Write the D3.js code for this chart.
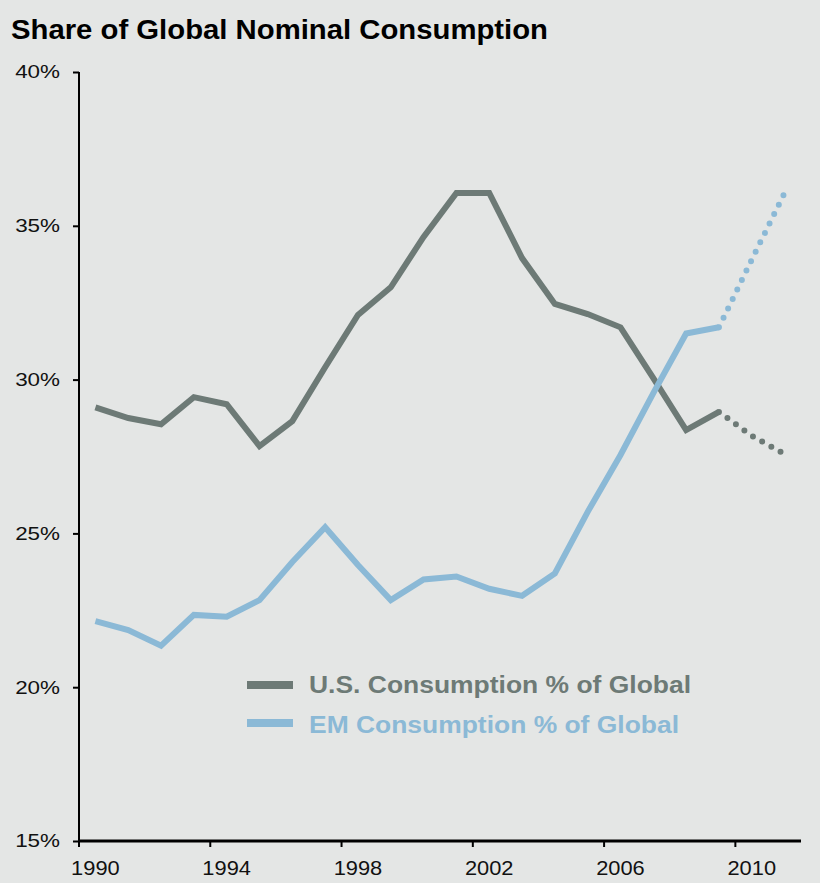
<!DOCTYPE html>
<html>
    <head>
        <title>Share of Global Nominal Consumption</title>
        <script src="https://d3js.org/d3.v7.min.js"></script>
        <style>
            body { margin: 0; background: #e4e6e5; }
            svg text { font-family: 'Liberation Sans', Arimo, Helvetica, sans-serif; }
        </style>
    </head>
    <body>
        <div id="chart"></div>
        <script>
            //  data
            const years = d3.range(1990, 2012);
            const tickYears = [1990, 1994, 1998, 2002, 2006, 2010];
            const yTicks = [15, 20, 25, 30, 35, 40];

            const usShare = [29.1, 28.75, 28.55, 29.43, 29.2, 27.84, 28.65, 30.4, 32.1, 33.0,
                             34.64, 36.07, 36.07, 33.95, 32.46, 32.13, 31.7, 30.05, 28.36, 28.95];
            const usProjected = [28.95, 28.17, 27.58];   // 2009 - 2011

            const emShare = [22.15, 21.86, 21.35, 22.35, 22.29, 22.83, 24.07, 25.2, 23.97, 22.83,
                             23.5, 23.6, 23.2, 22.97, 23.7, 25.7, 27.55, 29.56, 31.5, 31.7];
            const emProjected = [31.7, 33.9, 36.07];     // 2009 - 2011

            const width = 820;
            const height = 883;
            const usColor = "#6d7a76";
            const emColor = "#8bb9d6";
            const font = "'Liberation Sans', Arimo, Helvetica, sans-serif";

            //  the source picture has its type a little wider than plain Arial
            function widen(sel, k) {
                sel.each(function() {
                    const w = this.getComputedTextLength();
                    d3.select(this)
                        .attr("textLength", w * k)
                        .attr("lengthAdjust", "spacingAndGlyphs");
                });
            }

            const svg = d3.select("#chart").append("svg")
                .attr("width", width)
                .attr("height", height);

            svg.append("rect")
                .attr("width", width)
                .attr("height", height)
                .attr("fill", "#e4e6e5");

            svg.append("text")
                .attr("x", 11)
                .attr("y", 39)
                .attr("font-family", font)
                .attr("font-size", 27)
                .attr("font-weight", "bold")
                .attr("fill", "#000")
                .attr("textLength", 537)
                .attr("lengthAdjust", "spacingAndGlyphs")
                .text("Share of Global Nominal Consumption");

            //  category style x axis: points at band centres, ticks on band edges
            const x = d3.scaleBand()
                .domain(years)
                .range([79, 801]);
            const xc = yr => x(yr) + x.bandwidth() / 2;

            const y = d3.scaleLinear()
                .domain([15, 40])
                .range([841, 72]);

            //  y axis
            const yAxis = svg.append("g")
                .attr("transform", "translate(79,0)")
                .call(d3.axisLeft(y).tickValues(yTicks).tickSize(6).tickFormat(d => d + "%"));
            yAxis.select(".domain").attr("stroke", "#000").attr("stroke-width", 2)
                .attr("d", `M0,${y(40)}V${y(15)}`);
            yAxis.selectAll(".tick line").attr("stroke", "#000").attr("stroke-width", 2);
            yAxis.selectAll(".tick text")
                .attr("font-size", 18.7)
                .attr("font-family", font)
                .attr("fill", "#111")
                .attr("x", -19)
                .call(widen, 1.2);

            //  x axis
            const xAxis = svg.append("g")
                .attr("transform", `translate(0,${y(15)})`);
            xAxis.append("line")
                .attr("x1", 79)
                .attr("x2", 801)
                .attr("stroke", "#000")
                .attr("stroke-width", 3);
            xAxis.selectAll(".xtick")
                .data(tickYears)
                .join("line")
                .attr("x1", d => x(d))
                .attr("x2", d => x(d))
                .attr("y1", 0)
                .attr("y2", 6)
                .attr("stroke", "#000")
                .attr("stroke-width", 2);
            xAxis.selectAll(".xlabel")
                .data(tickYears)
                .join("text")
                .attr("x", d => xc(d))
                .attr("y", 34)
                .attr("text-anchor", "middle")
                .attr("font-family", font)
                .attr("font-size", 19.5)
                .attr("fill", "#111")
                .text(d => d)
                .call(widen, 1.12);

            const line = d3.line()
                .x(d => xc(d.year))
                .y(d => y(d.value));

            const toPoints = (vals, start) => vals.map((v, i) => ({year: start + i, value: v}));

            //  solid history lines
            svg.append("path")
                .datum(toPoints(usShare, 1990))
                .attr("d", line)
                .attr("fill", "none")
                .attr("stroke", usColor)
                .attr("stroke-width", 6)
                .attr("stroke-linejoin", "miter");

            svg.append("path")
                .datum(toPoints(emShare, 1990))
                .attr("d", line)
                .attr("fill", "none")
                .attr("stroke", emColor)
                .attr("stroke-width", 6)
                .attr("stroke-linejoin", "miter");

            //  dotted projections
            [[usProjected, usColor], [emProjected, emColor]].forEach(([vals, col]) => {
                svg.append("path")
                    .datum(toPoints(vals, 2009))
                    .attr("d", line)
                    .attr("fill", "none")
                    .attr("stroke", col)
                    .attr("stroke-width", 6)
                    .attr("stroke-linecap", "round")
                    .attr("stroke-dasharray", "0 10.5")
                    .attr("stroke-dashoffset", -10.5);
            });

            //  legend
            const legend = [
                {label: "U.S. Consumption % of Global", color: usColor, y: 685, base: 693, len: 382},
                {label: "EM Consumption % of Global", color: emColor, y: 723, base: 732.5, len: 370}
            ];
            const lg = svg.append("g").selectAll("g")
                .data(legend)
                .join("g");
            lg.append("line")
                .attr("x1", 247)
                .attr("x2", 293)
                .attr("y1", d => d.y)
                .attr("y2", d => d.y)
                .attr("stroke", d => d.color)
                .attr("stroke-width", 8);
            lg.append("text")
                .attr("x", 309)
                .attr("y", d => d.base)
                .attr("font-family", font)
                .attr("font-size", 23.3)
                .attr("font-weight", "bold")
                .attr("fill", d => d.color)
                .attr("textLength", d => d.len)
                .attr("lengthAdjust", "spacingAndGlyphs")
                .text(d => d.label);
        </script>
    </body>
</html>
